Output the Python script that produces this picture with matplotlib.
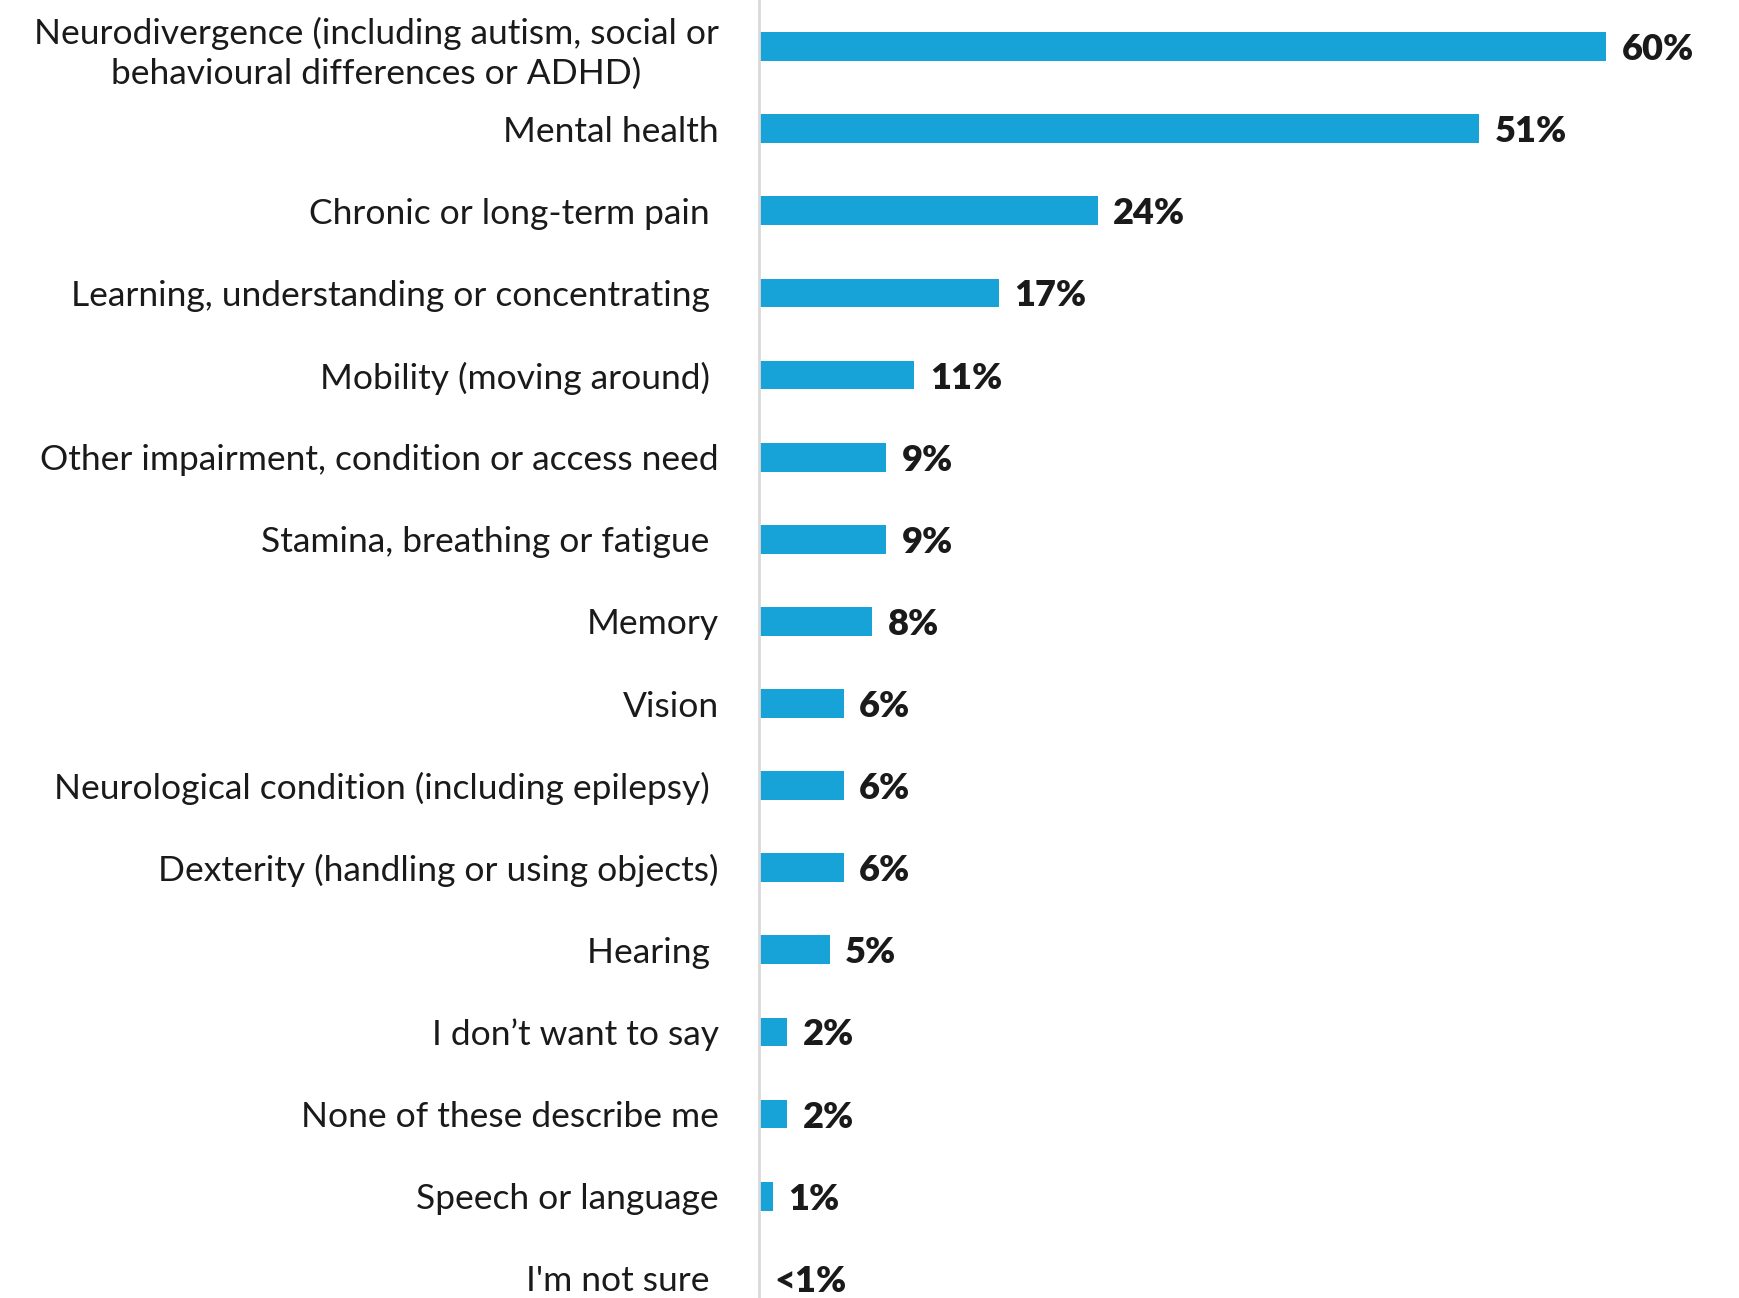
import matplotlib
matplotlib.use("Agg")
import matplotlib.pyplot as plt

categories = [
    "Neurodivergence (including autism, social or\nbehavioural differences or ADHD)",
    "Mental health",
    "Chronic or long-term pain ",
    "Learning, understanding or concentrating ",
    "Mobility (moving around) ",
    "Other impairment, condition or access need",
    "Stamina, breathing or fatigue ",
    "Memory",
    "Vision",
    "Neurological condition (including epilepsy) ",
    "Dexterity (handling or using objects)",
    "Hearing ",
    "I don\u2019t want to say",
    "None of these describe me",
    "Speech or language",
    "I'm not sure ",
]
values = [60, 51, 24, 17, 11, 9, 9, 8, 6, 6, 6, 5, 2, 2, 1, 0]
value_labels = ["60%", "51%", "24%", "17%", "11%", "9%", "9%", "8%", "6%", "6%",
                "6%", "5%", "2%", "2%", "1%", "<1%"]

BAR = "#17A3D7"
TXT = "#1a1a1a"
FONT = "Lato"

fig = plt.figure(figsize=(17.4, 12.98), dpi=100)
ax = fig.add_axes([759 / 1740, 0, 1 - 759 / 1740, 1])

n = len(categories)
ypos = list(range(n))
ax.barh(ypos, values, height=0.35, color=BAR, zorder=2)

ax.set_xlim(0, 69.5)
ax.set_ylim(15.24, -0.568)

for y, v, lab in zip(ypos, values, value_labels):
    ax.text(v + 1.1, y, lab, va="center_baseline", ha="left", fontsize=26,
            fontweight="heavy", color=TXT, family=FONT)

ax.set_yticks(ypos)
ax.set_yticklabels(categories, fontsize=25.5, color=TXT, family=FONT)
for lbl in ax.get_yticklabels():
    lbl.set_multialignment("center")
    lbl.set_linespacing(1.3)
ax.tick_params(axis="y", length=0, pad=29)
ax.set_xticks([])

for s in ["top", "right", "bottom"]:
    ax.spines[s].set_visible(False)
ax.spines["left"].set_color("#d9d9d9")
ax.spines["left"].set_linewidth(2)

fig.savefig("out.png", dpi=100)
